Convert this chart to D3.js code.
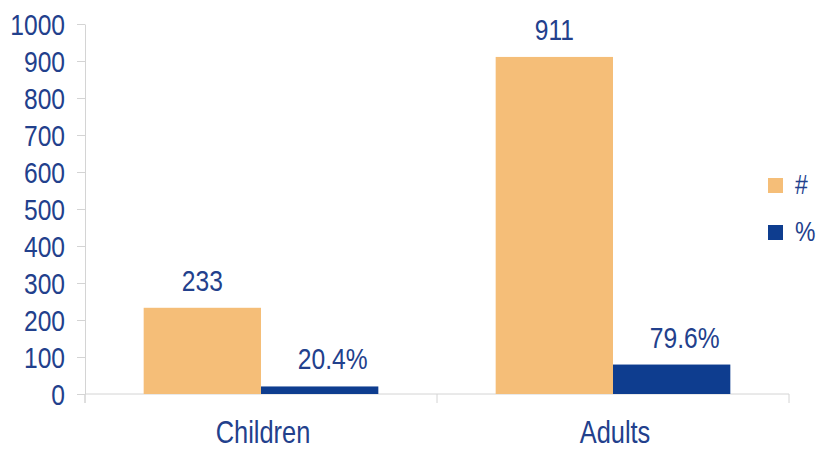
<!DOCTYPE html>
<html>
<head>
<meta charset="utf-8">
<script src="https://cdn.jsdelivr.net/npm/d3@7"></script>
<style>
  body { margin: 0; background: #fff; }
  text { font-family: "Liberation Sans", Arial, sans-serif; }
</style>
</head>
<body>
<div id="chart"></div>
<script>
// Chart data
const categories = ["Children", "Adults"];
const seriesKeys = ["#", "%"];
const countValues = [233, 911];
const percentValues = [20.4, 79.6];
const yTicks = [0, 100, 200, 300, 400, 500, 600, 700, 800, 900, 1000];

const colors = { "#": "#F5BE78", "%": "#0E3D8F" };
const textColor = "#22408C";
const SX = 0.82; // horizontal squeeze to mimic a narrow typeface

const W = 823, H = 449;
const margin = { top: 24, right: 34, bottom: 55, left: 85 };

// squeeze text horizontally around its own anchor point
function narrow(sel) {
  sel.each(function () {
    const t = d3.select(this);
    const x = +t.attr("x") || 0, yy = +t.attr("y") || 0;
    t.attr("x", 0).attr("y", 0)
      .attr("transform", `translate(${x},${yy}) scale(${SX},1)`);
  });
}

const svg = d3.select("#chart")
  .append("svg")
  .attr("width", W)
  .attr("height", H);

// Scales
const x0 = d3.scaleBand()
  .domain(categories)
  .range([margin.left, 789])
  .padding(0);

const x1 = d3.scaleBand()
  .domain(seriesKeys)
  .range([0, x0.bandwidth()])
  .paddingInner(0)
  .paddingOuter(0.5);

const y = d3.scaleLinear()
  .domain([0, 1000])
  .range([H - margin.bottom, margin.top]);

// Y axis
const yAxis = svg.append("g")
  .attr("transform", `translate(${margin.left},0)`)
  .call(d3.axisLeft(y).tickValues(yTicks).tickFormat(d3.format("d"))
    .tickSize(8).tickPadding(12).tickSizeOuter(0));

yAxis.select(".domain").attr("stroke", "#d4d4d4");
yAxis.selectAll(".tick line").attr("stroke", "#d4d4d4");
yAxis.selectAll(".tick text")
  .attr("fill", textColor)
  .style("font-size", "30px")
  .attr("dy", "0.36em")
  .call(narrow);

// Extend y axis line slightly below zero
svg.append("line")
  .attr("x1", margin.left).attr("x2", margin.left)
  .attr("y1", y(0)).attr("y2", y(0) + 9)
  .attr("stroke", "#d4d4d4");

// X axis baseline and category boundary ticks
svg.append("line")
  .attr("x1", x0.range()[0]).attr("x2", x0.range()[1])
  .attr("y1", y(0)).attr("y2", y(0))
  .attr("stroke", "#d4d4d4");

const bounds = categories.map(c => x0(c)).concat([x0.range()[1]]);
svg.selectAll(".xbound")
  .data(bounds)
  .enter()
  .append("line")
  .attr("class", "xbound")
  .attr("x1", d => d).attr("x2", d => d)
  .attr("y1", y(0)).attr("y2", y(0) + 9)
  .attr("stroke", "#d4d4d4");

// Category labels
svg.selectAll(".xlabel")
  .data(categories)
  .enter()
  .append("text")
  .attr("class", "xlabel")
  .attr("x", d => x0(d) + x0.bandwidth() / 2 + 2)
  .attr("y", 443)
  .attr("text-anchor", "middle")
  .attr("fill", textColor)
  .style("font-size", "31px")
  .text(d => d)
  .call(narrow);

// Bars
const rows = categories.map((c, i) => ({
  category: c,
  values: [
    { key: "#", value: countValues[i], label: String(countValues[i]) },
    { key: "%", value: percentValues[i], label: percentValues[i].toFixed(1) + "%" }
  ]
}));

const groups = svg.selectAll(".group")
  .data(rows)
  .enter()
  .append("g")
  .attr("class", "group")
  .attr("transform", d => `translate(${x0(d.category)},0)`);

groups.selectAll("rect")
  .data(d => d.values)
  .enter()
  .append("rect")
  .attr("x", d => x1(d.key))
  .attr("y", d => y(d.value))
  .attr("width", x1.bandwidth())
  .attr("height", d => y(0) - y(d.value))
  .attr("fill", d => colors[d.key]);

// Value labels
groups.selectAll(".vlabel")
  .data(d => d.values)
  .enter()
  .append("text")
  .attr("class", "vlabel")
  .attr("x", d => x1(d.key) + x1.bandwidth() / 2 + (d.key === "%" ? 13 : 0))
  .attr("y", d => y(d.value) - 17)
  .attr("text-anchor", "middle")
  .attr("fill", textColor)
  .style("font-size", "30px")
  .text(d => d.label)
  .call(narrow);

// Legend
const legend = svg.append("g")
  .attr("transform", "translate(768,178)");

seriesKeys.forEach((k, i) => {
  const row = legend.append("g")
    .attr("transform", `translate(0,${i * 47})`);
  row.append("rect")
    .attr("width", 15)
    .attr("height", 15)
    .attr("fill", colors[k]);
  row.append("text")
    .attr("x", 27)
    .attr("y", 16)
    .attr("fill", textColor)
    .style("font-size", "28px")
    .text(k)
    .call(narrow);
});
</script>
</body>
</html>
